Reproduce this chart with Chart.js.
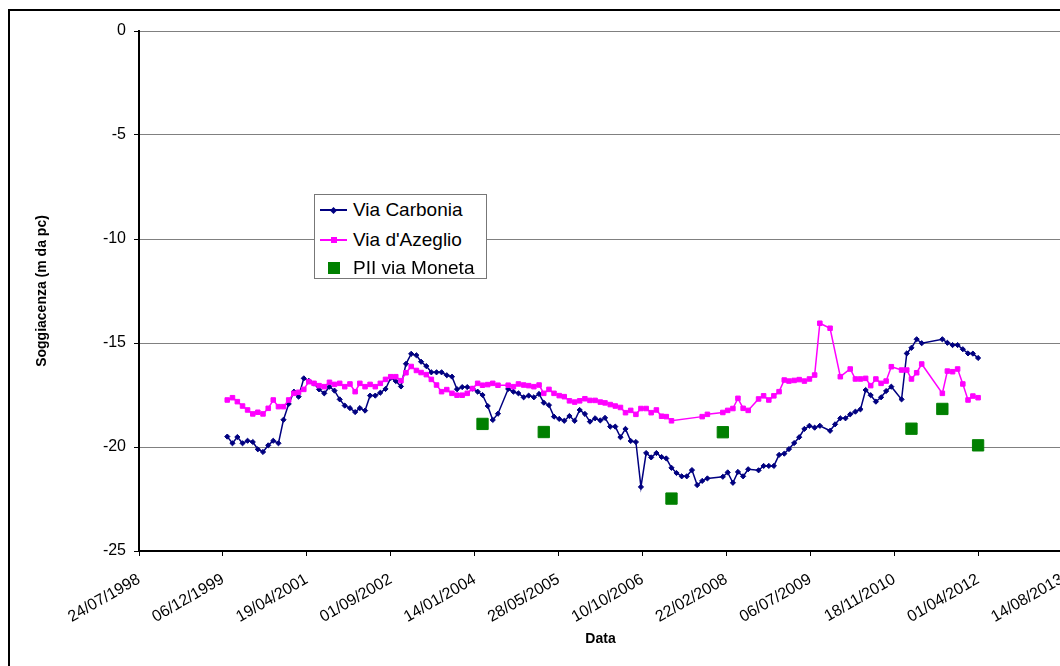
<!DOCTYPE html>
<html>
<head>
<meta charset="utf-8">
<title>Soggiacenza</title>
<script src="https://cdn.jsdelivr.net/npm/chart.js@4.4.1/dist/chart.umd.min.js"></script>
<style>
  html, body { margin: 0; padding: 0; background: #fff; }
  #wrap { position: relative; width: 1060px; height: 666px; overflow: hidden; }
  #frame { position: absolute; left: 8px; top: 9px; width: 1100px; height: 700px; border: 2px solid #000; }
  #chart { position: absolute; left: 0; top: 0; }
  #legend {
    position: absolute; left: 314px; top: 194px; width: 171px; height: 83px;
    border: 1px solid #777; background: #fff;
    font-family: "Liberation Sans", Arial, sans-serif; font-size: 19px; color: #000;
  }
  #legend .row { position: absolute; left: 0; width: 100%; height: 28px; }
  #legend .line { position: absolute; left: 5px; top: 13px; width: 27px; height: 2px; }
  #legend .mk { position: absolute; }
  #legend .txt { position: absolute; left: 38px; top: 0; line-height: 28px; white-space: nowrap; }
</style>
</head>
<body>
<div id="wrap">
  <div id="frame"></div>
  <canvas id="chart" width="1100" height="700"></canvas>
  <div id="legend"></div>
</div>
<script>
// x axis: Excel date serials, one tick every 500 days
const xTickValues = [36000, 36500, 37000, 37500, 38000, 38500, 39000, 39500, 40000, 40500, 41000, 41500];

const carboniaDates = [
  "2000-01","2000-02","2000-03","2000-04","2000-05","2000-06","2000-07","2000-08","2000-09","2000-10","2000-11","2000-12",
  "2001-01","2001-02","2001-03","2001-04","2001-05","2001-06","2001-07","2001-08","2001-09","2001-10","2001-11","2001-12",
  "2002-01","2002-02","2002-03","2002-04","2002-05","2002-06","2002-07","2002-08","2002-09","2002-10","2002-11","2002-12",
  "2003-01","2003-02","2003-03","2003-04","2003-05","2003-06","2003-07","2003-08","2003-09","2003-10","2003-11","2003-12",
  "2004-01","2004-02","2004-03","2004-04","2004-05","2004-06","2004-08","2004-09","2004-10","2004-11","2004-12",
  "2005-01","2005-02","2005-03","2005-04","2005-05","2005-06","2005-07","2005-08","2005-09","2005-10","2005-11","2005-12",
  "2006-01","2006-02","2006-03","2006-04","2006-05","2006-06","2006-07","2006-08","2006-09","2006-10","2006-11","2006-12",
  "2007-01","2007-02","2007-03","2007-04","2007-05","2007-06","2007-07","2007-08","2007-09","2007-10","2007-11",
  "2008-02","2008-03","2008-04","2008-05","2008-06","2008-07","2008-09","2008-10","2008-11","2008-12",
  "2009-01","2009-02","2009-03","2009-04","2009-05","2009-06","2009-07","2009-08","2009-09","2009-11","2009-12",
  "2010-01","2010-02","2010-03","2010-04","2010-05","2010-06","2010-07","2010-08","2010-09","2010-10","2010-11",
  "2011-01","2011-02","2011-03","2011-04","2011-05","2011-09","2011-10","2011-11","2011-12",
  "2012-01","2012-02","2012-03","2012-04"
];
const carboniaDepth = [
  -19.50,-19.82,-19.52,-19.82,-19.70,-19.76,-20.11,-20.24,-19.92,-19.70,-19.82,-18.69,
  -17.93,-17.34,-17.58,-16.70,-16.82,-16.95,-17.23,-17.42,-17.10,-17.29,-17.71,-18.01,
  -18.13,-18.32,-18.13,-18.25,-17.53,-17.53,-17.39,-17.21,-16.68,-16.83,-17.09,-16.00,
  -15.52,-15.59,-15.90,-16.11,-16.41,-16.41,-16.41,-16.55,-16.62,-17.22,-17.12,-17.12,
  -17.19,-17.34,-17.50,-18.03,-18.70,-18.40,-17.21,-17.34,-17.42,-17.61,-17.53,
  -17.61,-17.45,-17.87,-17.99,-18.54,-18.65,-18.74,-18.51,-18.74,-18.22,-18.41,-18.78,
  -18.62,-18.72,-18.60,-19.02,-19.02,-19.53,-19.13,-19.71,-19.76,-21.92,-20.29,-20.50,
  -20.29,-20.48,-20.55,-21.00,-21.25,-21.41,-21.41,-21.11,-21.83,-21.63,-21.51,
  -21.43,-21.22,-21.72,-21.20,-21.41,-21.07,-21.12,-20.91,-20.91,-20.91,
  -20.38,-20.32,-20.10,-19.81,-19.53,-19.13,-18.98,-19.07,-18.98,-19.22,-18.91,
  -18.62,-18.62,-18.43,-18.30,-18.19,-17.26,-17.51,-17.82,-17.61,-17.31,-17.10,
  -17.71,-15.50,-15.23,-14.82,-15.01,-14.82,-14.99,-15.10,-15.10,
  -15.30,-15.50,-15.51,-15.72
];

const azeglioDates = [
  "2000-01","2000-02","2000-03","2000-04","2000-05","2000-06","2000-07","2000-08","2000-09","2000-10","2000-11","2000-12",
  "2001-01","2001-02","2001-03","2001-04","2001-05","2001-06","2001-07","2001-08","2001-09","2001-10","2001-11","2001-12",
  "2002-01","2002-02","2002-03","2002-04","2002-05","2002-06","2002-07","2002-08","2002-09","2002-10","2002-11","2002-12",
  "2003-01","2003-02","2003-03","2003-04","2003-05","2003-06","2003-07","2003-08","2003-09","2003-10","2003-11","2003-12",
  "2004-01","2004-02","2004-03","2004-04","2004-05","2004-06","2004-08","2004-09","2004-10","2004-11","2004-12",
  "2005-01","2005-02","2005-03","2005-04","2005-05","2005-06","2005-07","2005-08","2005-09","2005-10","2005-11","2005-12",
  "2006-01","2006-02","2006-03","2006-04","2006-05","2006-06","2006-07","2006-08","2006-09","2006-10","2006-11","2006-12",
  "2007-01","2007-02","2007-03","2007-04","2007-10","2007-11",
  "2008-02","2008-03","2008-04","2008-05","2008-06","2008-07","2008-09","2008-10","2008-11","2008-12",
  "2009-01","2009-02","2009-03","2009-04","2009-05","2009-06","2009-07","2009-08","2009-09","2009-11",
  "2010-01","2010-03","2010-04","2010-05","2010-06","2010-07","2010-08","2010-09","2010-10","2010-11",
  "2011-01","2011-02","2011-03","2011-04","2011-05","2011-09","2011-10","2011-11","2011-12",
  "2012-01","2012-02","2012-03","2012-04"
];
const azeglioDepth = [
  -17.74,-17.63,-17.82,-18.03,-18.22,-18.41,-18.33,-18.41,-18.14,-17.74,-18.06,-18.06,
  -17.74,-17.42,-17.37,-17.23,-16.86,-16.94,-17.05,-17.10,-16.89,-16.99,-16.94,-17.10,
  -16.97,-17.34,-16.94,-17.10,-16.99,-17.10,-16.94,-16.75,-16.62,-16.62,-16.81,-16.43,
  -16.13,-16.32,-16.42,-16.52,-16.75,-17.02,-17.34,-17.24,-17.42,-17.51,-17.51,-17.42,
  -17.19,-16.94,-17.03,-17.00,-16.94,-17.03,-17.03,-17.10,-16.97,-17.02,-17.05,
  -17.10,-17.02,-17.42,-17.23,-17.42,-17.53,-17.58,-17.78,-17.84,-17.78,-17.68,-17.76,
  -17.76,-17.84,-17.88,-17.96,-18.03,-18.10,-18.35,-18.24,-18.43,-18.15,-18.15,-18.35,
  -18.22,-18.52,-18.54,-18.74,-18.54,-18.43,
  -18.34,-18.24,-18.15,-17.66,-18.14,-18.24,-17.69,-17.54,-17.74,-17.54,
  -17.34,-16.78,-16.83,-16.80,-16.76,-16.83,-16.73,-16.54,-14.05,-14.29,
  -16.62,-16.25,-16.73,-16.73,-16.70,-17.05,-16.73,-16.94,-16.83,-16.14,
  -16.30,-16.30,-16.73,-16.43,-16.01,-17.42,-16.35,-16.38,-16.25,
  -16.97,-17.74,-17.55,-17.63
];

const monetaDates = ["2004-03", "2005-03", "2007-04", "2008-02", "2011-03", "2011-09", "2012-04"];
const monetaDepth = [-18.89, -19.28, -22.48, -19.29, -19.12, -18.17, -19.92];

const FONT = '"Liberation Sans", Arial, sans-serif';
const EXCEL_EPOCH = Date.UTC(1899, 11, 30);

function toSerial(ym) {
  const [y, m] = ym.split('-').map(Number);
  return (Date.UTC(y, m - 1, 1) - EXCEL_EPOCH) / 86400000;
}
function serialLabel(s) {
  const d = new Date(EXCEL_EPOCH + s * 86400000);
  const pad = n => String(n).padStart(2, '0');
  return pad(d.getUTCDate()) + '/' + pad(d.getUTCMonth() + 1) + '/' + d.getUTCFullYear();
}
function points(dates, vals) {
  return dates.map((d, i) => ({ x: toSerial(d), y: vals[i] }));
}

const datasets = [
  {
    label: 'Via Carbonia',
    data: points(carboniaDates, carboniaDepth),
    borderColor: '#000080', backgroundColor: '#000080',
    borderWidth: 1.5, pointStyle: 'rectRot', pointRadius: 2.6, pointBorderWidth: 1,
    order: 3
  },
  {
    label: "Via d'Azeglio",
    data: points(azeglioDates, azeglioDepth),
    borderColor: '#ff00ff', backgroundColor: '#ff00ff',
    borderWidth: 1.5, pointStyle: 'rect', pointRadius: 3.2, pointBorderWidth: 1,
    order: 2
  },
  {
    label: 'PII via Moneta',
    data: points(monetaDates, monetaDepth),
    borderColor: '#008000', backgroundColor: '#008000',
    showLine: false, pointStyle: 'rect', pointRadius: 8, pointBorderWidth: 1,
    order: 1
  }
];

const chart = new Chart(document.getElementById('chart'), {
  type: 'line',
  data: { datasets: datasets },
  options: {
    responsive: false,
    animation: false,
    devicePixelRatio: 1,
    layout: { padding: { left: 0, top: 31, right: 38, bottom: 0 } },
    elements: { line: { tension: 0 } },
    plugins: { legend: { display: false }, tooltip: { enabled: false } },
    scales: {
      x: {
        type: 'linear',
        min: 36000,
        max: 41500,
        afterBuildTicks: (axis) => { axis.ticks = xTickValues.map(v => ({ value: v })); },
        afterFit: (axis) => { axis.height = 149; },
        ticks: {
          callback: (v) => serialLabel(v),
          autoSkip: false, minRotation: 30, maxRotation: 30,
          color: '#000', font: { family: FONT, size: 16 }, padding: 14
        },
        grid: { drawOnChartArea: false, drawTicks: true, tickLength: 5, tickColor: '#000' },
        border: { color: '#000', width: 2 },
        title: {
          display: true, text: 'Data', color: '#000',
          font: { family: FONT, size: 14, weight: 'bold' },
          padding: { top: 0, bottom: 52 }
        }
      },
      y: {
        min: -25,
        max: 0,
        afterFit: (axis) => { axis.width = 139; },
        ticks: { stepSize: 5, color: '#000', font: { family: FONT, size: 16 }, padding: 8 },
        grid: { color: '#808080', lineWidth: 1, tickLength: 5, tickColor: '#000' },
        border: { color: '#000', width: 2 },
        title: {
          display: true, text: 'Soggiacenza (m da pc)', color: '#000',
          font: { family: FONT, size: 14, weight: 'bold' },
          padding: { top: 34, bottom: 0 }
        }
      }
    }
  }
});

// legend drawn as html, boxed inside the plot like the original
const legend = document.getElementById('legend');
const rowTops = [1, 31, 59];
chart.data.datasets.forEach((ds, i) => {
  const row = document.createElement('div');
  row.className = 'row';
  row.style.top = rowTops[i] + 'px';
  if (ds.showLine !== false) {
    const ln = document.createElement('span');
    ln.className = 'line';
    ln.style.background = ds.borderColor;
    row.appendChild(ln);
  }
  const mk = document.createElement('span');
  mk.className = 'mk';
  const size = ds.showLine === false ? 12 : (ds.pointStyle === 'rectRot' ? 5 : 6);
  mk.style.width = size + 'px';
  mk.style.height = size + 'px';
  mk.style.left = (18.5 - size / 2) + 'px';
  mk.style.top = (14 - size / 2) + 'px';
  mk.style.background = ds.backgroundColor;
  if (ds.pointStyle === 'rectRot') mk.style.transform = 'rotate(45deg)';
  row.appendChild(mk);
  const txt = document.createElement('span');
  txt.className = 'txt';
  txt.textContent = ds.label;
  row.appendChild(txt);
  legend.appendChild(row);
});
</script>
</body>
</html>
